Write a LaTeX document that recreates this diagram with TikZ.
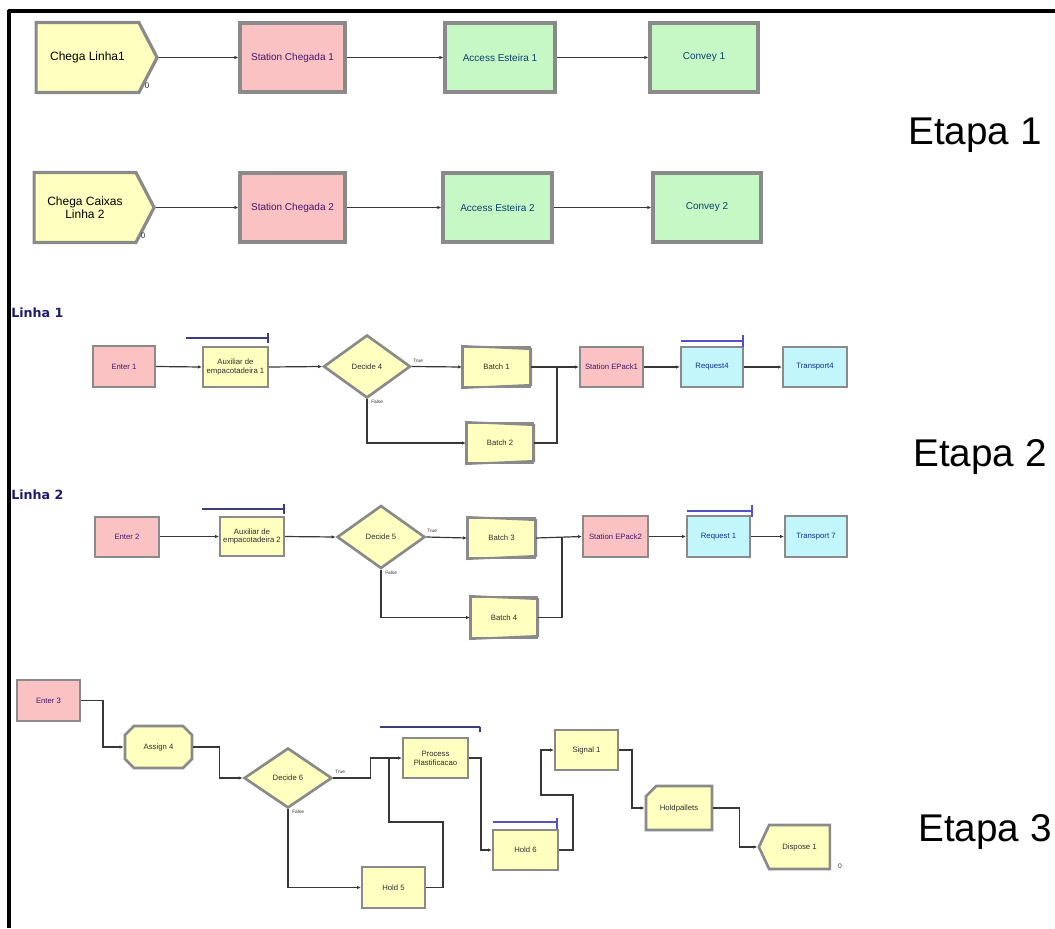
\documentclass[tikz,border=0pt]{standalone}
\usepackage{fontspec}
\setmainfont{Liberation Sans}
\newfontfamily\linhafont{DejaVu Sans}
\usetikzlibrary{shapes.geometric,shapes.symbols,shapes.misc,arrows.meta}

\definecolor{blkyellow}{RGB}{255,255,192}
\definecolor{blkpink}{RGB}{250,194,194}
\definecolor{blkgreen}{RGB}{198,248,198}
\definecolor{blkcyan}{RGB}{194,246,250}
\definecolor{blkedge}{RGB}{138,138,138}
\definecolor{wire}{RGB}{55,55,55}
\definecolor{queueblue}{RGB}{85,80,195}
\definecolor{queuenavy}{RGB}{60,60,130}
\definecolor{linhablue}{RGB}{28,28,110}
\definecolor{txtpurple}{RGB}{70,20,110}
\definecolor{txtteal}{RGB}{10,65,110}
\definecolor{txtdark}{RGB}{45,45,45}
\definecolor{txtblue}{RGB}{10,50,140}

\pgfdeclarelayer{bg}
\pgfsetlayers{bg,main}

\tikzset{
  sz/.style 2 args={minimum width=#1*0.75pt, minimum height=#2*0.75pt},
  block/.style={draw=blkedge, line width=1.5pt, inner sep=0pt, align=center,
    font=\fontsize{5.8}{6.6}\selectfont},
  bigblock/.style={block, line width=2.4pt, font=\fontsize{7.5}{8.5}\selectfont},
  yel/.style={fill=blkyellow, text=txtdark},
  pnk/.style={fill=blkpink, text=txtpurple},
  grn/.style={fill=blkgreen, text=txtteal},
  cyn/.style={fill=blkcyan, text=txtblue},
  create/.style={bigblock, yel, shape=signal, signal to=east,
    signal pointer angle=125, text=black, font=\fontsize{9}{10}\selectfont},
  decide/.style={block, yel, shape=diamond, line width=2pt},
  batchbox/.style={block, text=txtdark},
  assignbox/.style={block, yel, shape=chamfered rectangle,
    chamfered rectangle xsep=4pt, chamfered rectangle ysep=4pt, line width=2pt},
  holdcut/.style={block, yel, shape=chamfered rectangle,
    chamfered rectangle corners=north west,
    chamfered rectangle xsep=5pt, chamfered rectangle ysep=5pt, line width=2pt},
  disposebox/.style={block, yel, shape=signal, signal to=west,
    signal pointer angle=130, line width=2pt},
  flow/.style={draw=wire, line width=0.9pt, -{Latex[length=3pt,width=2.6pt]}},
  wireonly/.style={draw=wire, line width=0.9pt},
  queue/.style={draw=queueblue, line width=0.9pt},
  tiny/.style={font=\fontsize{3.6}{4}\selectfont, text=txtdark, inner sep=0pt},
  stage/.style={font=\fontsize{29}{32}\selectfont, text=black},
  linha/.style={anchor=west, inner sep=0pt, text=linhablue,
    font=\linhafont\bfseries\fontsize{9.5}{11}\selectfont}
}

\begin{document}
\begin{tikzpicture}[x=0.75pt, y=-0.75pt]
\useasboundingbox (0,0) rectangle (1055,928);

% frame on the top and left sides
\draw[line width=2.5pt] (7.6,11) -- (1055,11);
\draw[line width=2.5pt] (9,9.8) -- (9,928);

% ---------------- Etapa 1 ----------------
\node[create, sz={121}{70}] (c1) at (87.5,57.5) {Chega Linha1};
\node[bigblock, pnk, sz={105}{69}] (st1) at (292.5,57.5) {Station Chegada 1};
\node[bigblock, grn, sz={110}{69}] (ac1) at (500,57.5) {Access Esteira 1};
\node[bigblock, grn, sz={108}{69}] (cv1) at (704,57.5) {Convey 1};
\node[tiny, font=\fontsize{6}{6}\selectfont] (z1) at (147,86) {0};

\node[create, sz={120}{70}] (c2) at (85,207.5) {Chega Caixas\\Linha 2};
\node[bigblock, pnk, sz={105}{69}] (st2) at (292.5,207.5) {Station Chegada 2};
\node[bigblock, grn, sz={109}{69}] (ac2) at (497.5,207.5) {Access Esteira 2};
\node[bigblock, grn, sz={108}{69}] (cv2) at (707,207.5) {Convey 2};
\node[tiny, font=\fontsize{6}{6}\selectfont] (z2) at (143,236) {0};

\draw[flow] (c1.east) -- (st1.west);
\draw[flow] (st1.east) -- (ac1.west);
\draw[flow] (ac1.east) -- (cv1.west);
\draw[flow] (c2.east) -- (st2.west);
\draw[flow] (st2.east) -- (ac2.west);
\draw[flow] (ac2.east) -- (cv2.west);

\node[stage] (e1) at (975,135) {Etapa 1};

% ---------------- Etapa 2, Linha 1 ----------------
\node[linha] (l1) at (11,313) {Linha 1};
\node[block, pnk, sz={62}{41}] (en1) at (124,366.5) {Enter 1};
\node[block, yel, sz={65}{40}] (ax1) at (235.5,367) {Auxiliar de\\empacotadeira 1};
\node[decide, sz={87}{63}] (dc4) at (367,366.5) {Decide 4};
\node[batchbox, sz={67}{40}] (bt1) at (496.5,367) {Batch 1};
\node[batchbox, sz={66}{40}] (bt2) at (500,443) {Batch 2};
\node[block, pnk, sz={63}{40}] (se1) at (611.5,367) {Station EPack1};
\node[block, cyn, sz={62}{40}] (rq4) at (712,367) {Request4};
\node[block, cyn, sz={64}{40}] (tr4) at (815,367) {Transport4};
\coordinate (m1) at (557,366.5);

\draw[queue, draw=queuenavy] (186,338) -- (268,338) (268,333) -- (268,343);
\draw[queue] (681,341) -- (743,341) (743,335) -- (743,347);

\draw[flow] (en1.east) -- (ax1.west);
\draw[flow] (ax1.east) -- (dc4.west);
\draw[flow] (dc4.east) -- (bt1.west);
\draw[flow] (dc4.south) |- (bt2.west);
\draw[flow] (bt1.east) -- (se1.west);
\draw[wireonly] (bt2.east) -| (m1);
\draw[flow] (se1.east) -- (rq4.west);
\draw[flow] (rq4.east) -- (tr4.west);
\node[tiny, anchor=south west] (t4) at (413,363) {True};
\node[tiny, anchor=north west] (f4) at (371,400) {False};

% ---------------- Etapa 2, Linha 2 ----------------
\node[linha] (l2) at (11,495) {Linha 2};
\node[block, pnk, sz={64}{40}] (en2) at (127,536.5) {Enter 2};
\node[block, yel, sz={64}{39}] (ax2) at (252,536.5) {Auxiliar de\\empacotadeira 2};
\node[decide, sz={88}{63}] (dc5) at (381,537) {Decide 5};
\node[batchbox, sz={67}{40}] (bt3) at (501.5,538) {Batch 3};
\node[batchbox, sz={66}{41}] (bt4) at (504,617.5) {Batch 4};
\node[block, pnk, sz={65}{41}] (se2) at (615.5,536.5) {Station EPack2};
\node[block, cyn, sz={63}{41}] (rq1) at (718.5,536.5) {Request 1};
\node[block, cyn, sz={62}{41}] (tr1) at (816,536.5) {Transport 7};
\coordinate (m2) at (562,537);

\draw[queue, draw=queuenavy] (202,509) -- (284,509) (284,504) -- (284,514);
\draw[queue] (687,511) -- (752,511) (752,505) -- (752,517);

\draw[flow] (en2.east) -- (ax2.west);
\draw[flow] (ax2.east) -- (dc5.west);
\draw[flow] (dc5.east) -- (bt3.west);
\draw[flow] (dc5.south) |- (bt4.west);
\draw[flow] (bt3.east) -- (se2.west);
\draw[wireonly] (bt4.east) -| (m2);
\draw[flow] (se2.east) -- (rq1.west);
\draw[flow] (rq1.east) -- (tr1.west);
\node[tiny, anchor=south west] (t5) at (427,533) {True};
\node[tiny, anchor=north west] (f5) at (385,571) {False};

\node[stage] (e2) at (980,457) {Etapa 2};

% ---------------- Etapa 3 ----------------
\node[block, pnk, sz={63}{41}] (en3) at (48.5,700.5) {Enter 3};
\node[assignbox, sz={67}{42}] (as4) at (158.5,747) {Assign 4};
\node[decide, sz={88}{60}] (dc6) at (288,778) {Decide 6};
\node[block, yel, sz={65}{40}] (pr) at (435.5,758) {Process\\Plastificacao};
\node[block, yel, sz={63}{41}] (h5) at (393.5,887.5) {Hold 5};
\node[block, yel, sz={65}{40}] (h6) at (525.5,850) {Hold 6};
\node[block, yel, sz={63}{40}] (sg1) at (586.5,750) {Signal 1};
\node[holdcut, sz={66}{44}] (hp) at (679,808) {Holdpallets};
\node[disposebox, sz={71}{44}] (ds1) at (799.5,847) {Dispose 1};
\node[tiny, font=\fontsize{5}{5}\selectfont] (z3) at (840,866) {0};

\draw[queue, draw=queuenavy] (380,727) -- (480,727) (480,727) -- (480,732);
\draw[queue] (493,822) -- (557,822) (557,818) -- (557,829);

\draw[flow] (en3.east) -- ++(22,0) |- (as4.west);
\draw[flow] (as4.east) -- ++(26,0) |- (dc6.west);
\draw[flow] (dc6.east) -- ++(37,0) |- (pr.west);
\draw[flow] (dc6.south) |- (h5.west);
\draw[wireonly] (h5.east) -- ++(17,0) |- (389,822) -- (389,758);
\draw[flow] (pr.east) -- ++(12,0) |- (h6.west);
\draw[flow] (h6.east) -- ++(14,0) |- (541,795) |- (sg1.west);
\draw[flow] (sg1.east) -- ++(13,0) |- (hp.west);
\draw[flow] (hp.east) -- ++(26,0) |- (ds1.west);
\node[tiny, anchor=south west] (t6) at (335,774) {True};
\node[tiny, anchor=north west] (f6) at (292,810) {False};

\node[stage] (e3) at (985,832) {Etapa 3};

% batch outlines, drawn under their labels
\begin{pgfonlayer}{bg}
\foreach \b in {bt1,bt2,bt3,bt4}
  \draw[draw=blkedge, line width=1.5pt, fill=blkyellow]
    (\b.north west) -- ([yshift=-2.3pt]\b.north east)
    -- ([yshift=2.3pt]\b.south east) -- (\b.south west) -- cycle;
\end{pgfonlayer}
\end{tikzpicture}
\end{document}
